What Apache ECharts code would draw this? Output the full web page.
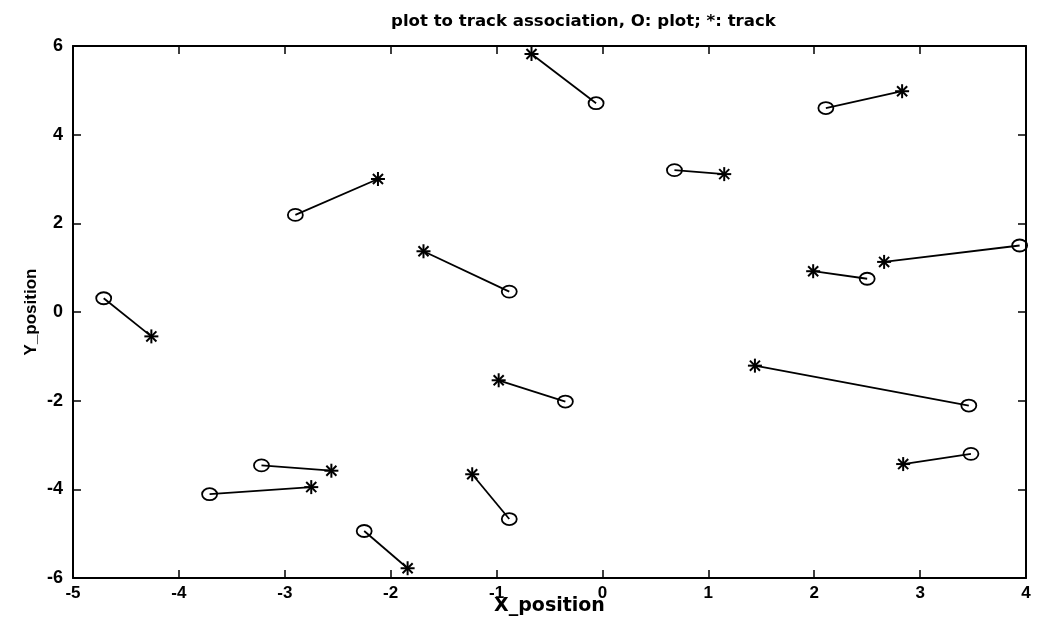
<!DOCTYPE html>
<html>
<head>
<meta charset="utf-8">
<script src="https://cdn.jsdelivr.net/npm/echarts@6/dist/echarts.min.js"></script>
<style>
  html, body { margin: 0; padding: 0; background: #fff; }
  #chart { width: 1051px; height: 628px; }
</style>
</head>
<body>
<div id="chart"></div>
<script>
// plots (O) and the tracks (*) they were associated with
const plotX = [-4.71, -2.90, -0.88, -0.06, 0.68, 2.11, 2.50, 3.94, 3.46, 3.48, -0.35, -3.22, -3.71, -0.88, -2.25];
const plotY = [0.31, 2.19, 0.46, 4.71, 3.20, 4.60, 0.75, 1.50, -2.11, -3.20, -2.02, -3.46, -4.11, -4.67, -4.94];
const trackX = [-4.26, -2.12, -1.69, -0.67, 1.15, 2.83, 1.99, 2.66, 1.44, 2.84, -0.98, -2.56, -2.75, -1.23, -1.84];
const trackY = [-0.55, 3.00, 1.37, 5.82, 3.11, 4.98, 0.92, 1.13, -1.21, -3.43, -1.54, -3.58, -3.95, -3.66, -5.78];

const xTicks = { min: -5, max: 4, interval: 1 };
const yTicks = { min: -6, max: 6, interval: 2 };

const font = 'Liberation Sans, Arial, Helvetica, sans-serif';
const wideFont = 'DejaVu Sans, Verdana, sans-serif';

const chart = echarts.init(document.getElementById('chart'));

const pairs = plotX.map((x, i) => [x, plotY[i], trackX[i], trackY[i]]);

// matlab-ish axis: ticks inside, black frame
const baseAxis = {
    type: 'value',
    splitLine: { show: false },
    axisLine: { show: true, onZero: false, lineStyle: { color: '#000', width: 2 } },
    axisTick: { show: true, inside: true, length: 8, lineStyle: { color: '#000', width: 1.5 } }
};

const option = {
    animation: false,
    backgroundColor: '#fff',
    title: {
        text: 'plot to track association, O: plot; *: track',
        left: 386,
        top: 8,
        textStyle: { fontFamily: wideFont, fontSize: 16.6, fontWeight: 'bold', color: '#000' }
    },
    grid: { left: 73, right: 25, top: 46, bottom: 50 },
    xAxis: [
        Object.assign({}, baseAxis, xTicks, {
            position: 'bottom',
            name: 'X_position',
            nameLocation: 'middle',
            nameGap: 19,
            nameMoveOverlap: false,
            nameTextStyle: { fontFamily: wideFont, fontSize: 19, fontWeight: 'bold', color: '#000' },
            axisLabel: { fontFamily: font, fontSize: 17, fontWeight: 'bold', color: '#000', margin: 7 }
        }),
        Object.assign({}, baseAxis, xTicks, {
            position: 'top',
            axisLabel: { show: false }
        })
    ],
    yAxis: [
        Object.assign({}, baseAxis, yTicks, {
            position: 'left',
            name: 'Y_position',
            nameLocation: 'middle',
            nameGap: 33,
            nameMoveOverlap: false,
            nameRotate: 90,
            nameTextStyle: { fontFamily: font, fontSize: 17, fontWeight: 'bold', color: '#000' },
            axisLabel: { fontFamily: font, fontSize: 18, fontWeight: 'bold', color: '#000', margin: 10 }
        }),
        Object.assign({}, baseAxis, yTicks, {
            position: 'right',
            axisLabel: { show: false }
        })
    ],
    series: [
        {
            type: 'custom',
            xAxisIndex: 0,
            yAxisIndex: 0,
            data: pairs,
            encode: { x: [0, 2], y: [1, 3] },
            renderItem: (params, api) => {
                const p = api.coord([api.value(0), api.value(1)]);
                const t = api.coord([api.value(2), api.value(3)]);
                const stroke = { stroke: '#000', lineWidth: 1.8, fill: null };
                const star = { stroke: '#000', lineWidth: 2, fill: null };
                const r = 7;
                const d = r * 0.72;
                return {
                    type: 'group',
                    children: [
                        { type: 'line', shape: { x1: p[0], y1: p[1], x2: t[0], y2: t[1] }, style: stroke },
                        { type: 'ellipse', shape: { cx: p[0], cy: p[1], rx: 7.5, ry: 6 }, style: { stroke: '#000', lineWidth: 1.8, fill: 'none' } },
                        { type: 'line', shape: { x1: t[0] - r, y1: t[1], x2: t[0] + r, y2: t[1] }, style: star },
                        { type: 'line', shape: { x1: t[0], y1: t[1] - r, x2: t[0], y2: t[1] + r }, style: star },
                        { type: 'line', shape: { x1: t[0] - d, y1: t[1] - d, x2: t[0] + d, y2: t[1] + d }, style: star },
                        { type: 'line', shape: { x1: t[0] - d, y1: t[1] + d, x2: t[0] + d, y2: t[1] - d }, style: star }
                    ]
                };
            }
        }
    ]
};

chart.setOption(option);
</script>
</body>
</html>
